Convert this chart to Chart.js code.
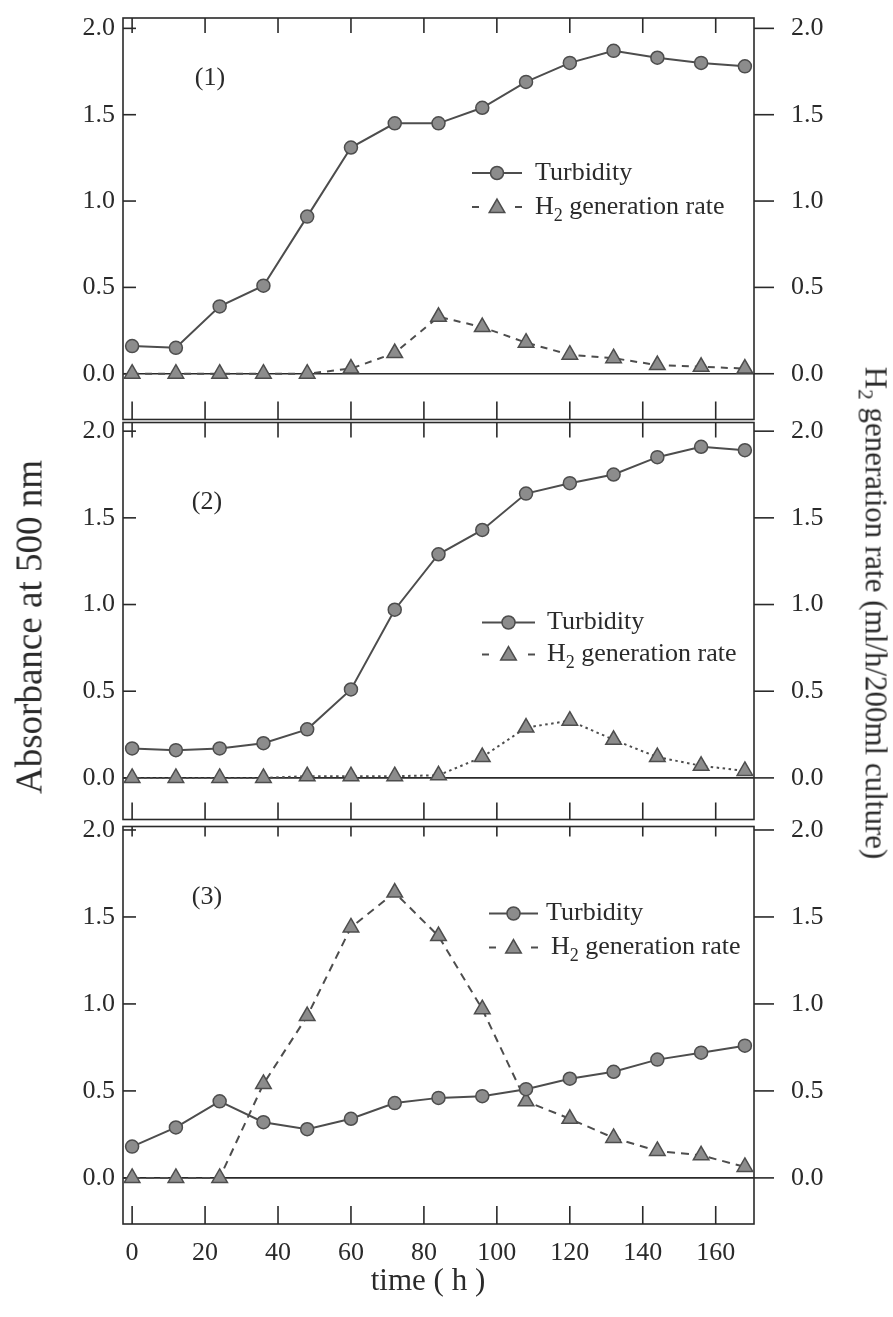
<!DOCTYPE html>
<html>
<head>
<meta charset="utf-8">
<script src="https://cdn.jsdelivr.net/npm/chart.js"></script>
<style>
  body { margin: 0; background: #fff; overflow: hidden; }
  #wrap { position: relative; width: 893px; height: 1317px; }
  canvas { position: absolute; left: 0; }
  .title { position: absolute; white-space: nowrap; color: #2a2a2a;
           font-family: 'Liberation Serif', 'DejaVu Serif', serif; transform-origin: center; }
  .title sub { font-size: 68%; }
</style>
</head>
<body>
<div id="wrap">
  <canvas id="panel1"></canvas>
  <canvas id="panel2"></canvas>
  <canvas id="panel3"></canvas>
  <div class="title" id="yTitle" style="font-size:37px; left:29px; top:627px; transform:translate(-50%,-50%) rotate(-90deg);">Absorbance at 500 nm</div>
  <div class="title" id="y2Title" style="font-size:31px; left:873px; top:613px; transform:translate(-50%,-50%) rotate(90deg);">H<sub>2</sub> generation rate (ml/h/200ml culture)</div>
  <div class="title" id="xTitle" style="font-size:31px; left:428px; top:1280px; transform:translate(-50%,-50%);">time ( h )</div>
</div>
<script>
// sampling times (h)
const hours = [0, 12, 24, 36, 48, 60, 72, 84, 96, 108, 120, 132, 144, 156, 168];

// panel (1)
const turbidity1 = [0.16, 0.15, 0.39, 0.51, 0.91, 1.31, 1.45, 1.45, 1.54, 1.69, 1.80, 1.87, 1.83, 1.80, 1.78];
const h2rate1    = [0, 0, 0, 0, 0, 0.03, 0.12, 0.33, 0.27, 0.18, 0.11, 0.09, 0.05, 0.04, 0.03];

// panel (2)
const turbidity2 = [0.17, 0.16, 0.17, 0.20, 0.28, 0.51, 0.97, 1.29, 1.43, 1.64, 1.70, 1.75, 1.85, 1.91, 1.89];
const h2rate2    = [0, 0, 0, 0, 0.01, 0.01, 0.01, 0.015, 0.12, 0.29, 0.33, 0.22, 0.12, 0.07, 0.04];

// panel (3)
const turbidity3 = [0.18, 0.29, 0.44, 0.32, 0.28, 0.34, 0.43, 0.46, 0.47, 0.51, 0.57, 0.61, 0.68, 0.72, 0.76];
const h2rate3    = [0, 0, 0, 0.54, 0.93, 1.44, 1.64, 1.39, 0.97, 0.44, 0.34, 0.23, 0.155, 0.13, 0.063];

// tick labels
const xTicks = [0, 20, 40, 60, 80, 100, 120, 140, 160];
const yTicks = [0, 0.5, 1.0, 1.5, 2.0];

const INK = '#2a2a2a';
const LINE = '#4d4d4d';
const FILL = '#8c8c8c';
const FONT = "'Liberation Serif', 'DejaVu Serif', serif";

Chart.defaults.font.family = FONT;
Chart.defaults.color = INK;

function toXY(vals) {
    return vals.map((v, i) => ({ x: hours[i], y: v }));
}

function line(ctx, x1, y1, x2, y2) {
    ctx.beginPath();
    ctx.moveTo(x1, y1);
    ctx.lineTo(x2, y2);
    ctx.stroke();
}

function triangle(ctx, x, y, r) {
    ctx.beginPath();
    for (let k = 0; k < 3; k++) {
        const a = k * 2 * Math.PI / 3;
        const px = x + Math.sin(a) * r, py = y - Math.cos(a) * r;
        if (k === 0) ctx.moveTo(px, py); else ctx.lineTo(px, py);
    }
    ctx.closePath();
    ctx.fill();
    ctx.stroke();
}

// scales keep their labels inside the fixed frame, no extra padding
function noPad(s) {
    s.paddingTop = 0;
    s.paddingBottom = 0;
    s.paddingLeft = 0;
    s.paddingRight = 0;
}

// frame, inward ticks, zero line, legend and panel label
const deco = {
    id: 'deco',
    beforeDatasetsDraw(chart, args, opts) {
        const { ctx, chartArea: a, scales } = chart;
        ctx.save();
        ctx.strokeStyle = INK;
        ctx.lineWidth = 1.6;
        ctx.strokeRect(a.left, a.top, a.right - a.left, a.bottom - a.top);
        const y0 = scales.y.getPixelForValue(0);
        line(ctx, a.left, y0, a.right, y0);
        yTicks.forEach(v => {
            const py = scales.y.getPixelForValue(v);
            line(ctx, a.left, py, a.left + 13, py);
            line(ctx, a.right, py, a.right + 20, py);
        });
        xTicks.forEach(v => {
            const px = scales.x.getPixelForValue(v);
            line(ctx, px, a.top, px, a.top + opts.topTick);
            line(ctx, px, a.bottom, px, a.bottom - opts.bottomTick);
        });
        ctx.restore();
    },
    afterDatasetsDraw(chart, args, opts) {
        const { ctx, chartArea: a } = chart;
        const L = opts.legend;
        const x1 = a.left + L.x1, x2 = a.left + L.x2, xm = (x1 + x2) / 2;
        const r1 = a.top + L.y1, r2 = a.top + L.y2;
        ctx.save();
        ctx.strokeStyle = LINE;
        ctx.fillStyle = FILL;
        ctx.lineWidth = 2;
        line(ctx, x1, r1, x2, r1);
        ctx.lineWidth = 1.5;
        ctx.beginPath();
        ctx.arc(xm, r1, 6.5, 0, Math.PI * 2);
        ctx.fill();
        ctx.stroke();
        ctx.lineWidth = 2;
        line(ctx, x1, r2, x1 + 7, r2);
        line(ctx, x2 - 7, r2, x2, r2);
        ctx.lineWidth = 1.5;
        triangle(ctx, xm, r2 + 1, 9);

        ctx.fillStyle = INK;
        ctx.textBaseline = 'middle';
        ctx.textAlign = 'left';
        ctx.font = '26px ' + FONT;
        ctx.fillText('Turbidity', a.left + L.t1, r1);
        let tx = a.left + L.t2;
        ctx.fillText('H', tx, r2);
        tx += ctx.measureText('H').width;
        ctx.font = '18px ' + FONT;
        ctx.fillText('2', tx, r2 + 9);
        tx += ctx.measureText('2').width;
        ctx.font = '26px ' + FONT;
        ctx.fillText(' generation rate', tx, r2);

        ctx.textAlign = 'center';
        ctx.fillText(opts.label, a.left + opts.labelX, a.top + opts.labelY);
        ctx.restore();
    }
};

function yAxis(position, min, max, width, padding) {
    return {
        type: 'linear',
        position: position,
        min: min,
        max: max,
        grid: { display: false, drawTicks: false },
        border: { display: false },
        afterBuildTicks: s => { s.ticks = yTicks.map(v => ({ value: v })); },
        afterFit: s => { s.width = width; noPad(s); },
        ticks: {
            padding: padding,
            font: { size: 26 },
            color: INK,
            callback: v => v.toFixed(1)
        }
    };
}

function makePanel(id, top, height, pad, cfg) {
    const canvas = document.getElementById(id);
    canvas.width = 893;
    canvas.height = height;
    canvas.style.top = top + 'px';
    canvas.style.width = '893px';
    canvas.style.height = height + 'px';

    return new Chart(canvas.getContext('2d'), {
        type: 'line',
        data: {
            datasets: [
                {
                    label: 'Turbidity',
                    data: toXY(cfg.turbidity),
                    yAxisID: 'y',
                    borderColor: LINE,
                    borderWidth: 2,
                    pointStyle: 'circle',
                    pointRadius: 6.5,
                    pointBackgroundColor: FILL,
                    pointBorderColor: LINE,
                    pointBorderWidth: 1.5,
                    tension: 0,
                    clip: false
                },
                {
                    label: 'H2 generation rate',
                    data: toXY(cfg.rate),
                    yAxisID: 'y2',
                    borderColor: LINE,
                    borderWidth: 2,
                    borderDash: cfg.dash,
                    pointStyle: 'triangle',
                    pointRadius: 9,
                    pointBackgroundColor: FILL,
                    pointBorderColor: LINE,
                    pointBorderWidth: 1.5,
                    tension: 0,
                    clip: false
                }
            ]
        },
        options: {
            responsive: false,
            animation: false,
            devicePixelRatio: 1,
            layout: { padding: pad },
            plugins: {
                legend: { display: false },
                tooltip: { enabled: false },
                deco: {
                    topTick: cfg.topTick,
                    bottomTick: cfg.bottomTick,
                    legend: cfg.legend,
                    label: cfg.label,
                    labelX: cfg.labelX,
                    labelY: cfg.labelY
                }
            },
            scales: {
                x: {
                    type: 'linear',
                    min: -2.5,
                    max: 170.5,
                    display: cfg.showX,
                    grid: { display: false, drawTicks: false },
                    border: { display: false },
                    afterBuildTicks: s => { s.ticks = xTicks.map(v => ({ value: v })); },
                    afterFit: s => { if (cfg.showX) s.height = 93; noPad(s); },
                    ticks: { padding: 14, font: { size: 26 }, color: INK, maxRotation: 0 }
                },
                y: yAxis('left', cfg.min, cfg.max, 123, 8),
                y2: yAxis('right', cfg.min, cfg.max, 139, 37)
            }
        },
        plugins: [deco]
    });
}

makePanel('panel1', 0, 430, { top: 18, bottom: 8, left: 0, right: 0 }, {
    turbidity: turbidity1, rate: h2rate1, dash: [7, 6],
    min: -0.265, max: 2.06, showX: false, topTick: 15, bottomTick: 18,
    label: '(1)', labelX: 87, labelY: 60,
    legend: { x1: 349, x2: 399, t1: 412, t2: 412, y1: 155, y2: 189 }
});

makePanel('panel2', 412, 418, { top: 10, bottom: 8, left: 0, right: 0 }, {
    turbidity: turbidity2, rate: h2rate2, dash: [2.5, 3.5],
    min: -0.24, max: 2.05, showX: false, topTick: 15, bottomTick: 17,
    label: '(2)', labelX: 84, labelY: 80,
    legend: { x1: 359, x2: 412, t1: 424, t2: 424, y1: 200, y2: 232 }
});

makePanel('panel3', 816, 501, { top: 10, bottom: 0, left: 0, right: 0 }, {
    turbidity: turbidity3, rate: h2rate3, dash: [8, 6],
    min: -0.265, max: 2.02, showX: true, topTick: 10, bottomTick: 18,
    label: '(3)', labelX: 84, labelY: 71,
    legend: { x1: 366, x2: 415, t1: 423, t2: 428, y1: 87, y2: 121 }
});
</script>
</body>
</html>
